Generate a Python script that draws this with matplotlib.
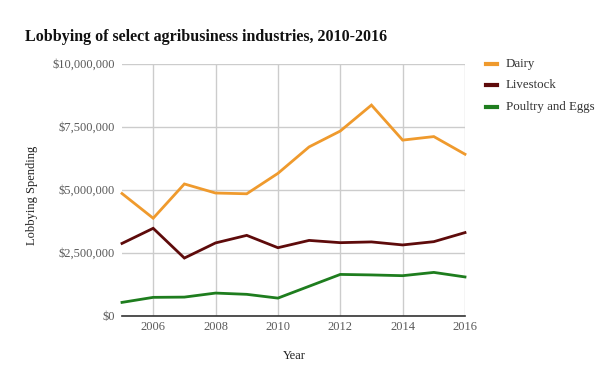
import matplotlib
matplotlib.use("Agg")
import matplotlib.pyplot as plt
from matplotlib.ticker import FuncFormatter
from matplotlib.lines import Line2D

years = [2005, 2006, 2007, 2008, 2009, 2010, 2011, 2012, 2013, 2014, 2015, 2016]
dairy = [4.84e6, 3.86e6, 5.22e6, 4.86e6, 4.83e6, 5.64e6, 6.69e6, 7.32e6, 8.35e6, 6.96e6, 7.10e6, 6.40e6]
livestock = [2.86e6, 3.46e6, 2.28e6, 2.88e6, 3.18e6, 2.69e6, 2.98e6, 2.89e6, 2.92e6, 2.80e6, 2.93e6, 3.29e6]
poultry = [0.52e6, 0.72e6, 0.73e6, 0.89e6, 0.84e6, 0.69e6, 1.16e6, 1.63e6, 1.61e6, 1.58e6, 1.71e6, 1.53e6]
series_names = ["Dairy", "Livestock", "Poultry and Eggs"]
colors = ["#ef9a2d", "#5e0b0b", "#1e7d1e"]
x_ticks = [2006, 2008, 2010, 2012, 2014, 2016]
y_ticks = [0, 2.5e6, 5e6, 7.5e6, 10e6]

plt.rcParams['font.family'] = ['Liberation Serif', 'DejaVu Serif']

W, H = 603, 377
fig = plt.figure(figsize=(W / 100, H / 100), dpi=100)
ax = fig.add_axes([122 / W, 1 - 315.5 / H, (465 - 122) / W, (315.5 - 63.5) / H])

for vals, c in zip([dairy, livestock, poultry], colors):
    ax.plot(years, vals, color=c, lw=2, solid_joinstyle='miter', clip_on=False, zorder=3)

ax.set_xlim(2005, 2016)
ax.set_ylim(0, 10e6)
ax.set_xticks(x_ticks)
ax.set_yticks(y_ticks)
ax.yaxis.set_major_formatter(FuncFormatter(lambda v, p: "${:,.0f}".format(v)))
ax.grid(True, color="#cccccc", lw=1)
ax.set_axisbelow(True)
for s in ["left", "top", "right"]:
    ax.spines[s].set_visible(False)
ax.spines["bottom"].set_color("#333333")
ax.spines["bottom"].set_linewidth(1.2)
ax.tick_params(axis='both', length=0, labelsize=9, labelcolor="#5a5a5a")
ax.tick_params(axis='y', pad=5)
ax.tick_params(axis='x', pad=4)

fig.text(294 / W, 1 - 356 / H, "Year", ha="center", va="center", fontsize=9, color="#222222")
fig.text(32 / W, 1 - 195 / H, "Lobbying Spending", ha="center", va="center", rotation=90, fontsize=9, color="#222222")
fig.text(25 / W, 1 - 37 / H, "Lobbying of select agribusiness industries, 2010-2016",
         ha="left", va="center", fontsize=11.5, fontweight="bold", color="#111111")

leg_y = [64, 85, 107]
for name, c, yy in zip(series_names, colors, leg_y):
    fig.add_artist(Line2D([486 / W, 497 / W], [1 - yy / H, 1 - yy / H], color=c, lw=3))
    fig.text(506 / W, 1 - yy / H, name, ha="left", va="center", fontsize=9.3, color="#333333")

fig.savefig("out.png", dpi=100)
